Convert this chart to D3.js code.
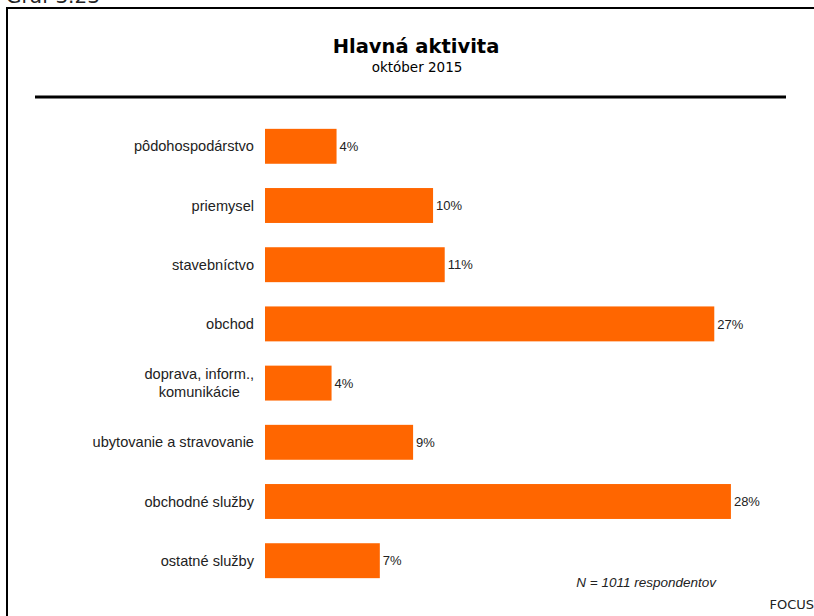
<!DOCTYPE html>
<html>
<head>
<meta charset="utf-8">
<script src="https://cdn.jsdelivr.net/npm/d3@7"></script>
<style>
  body { margin: 0; background: #fff; }
  svg { display: block; }
</style>
</head>
<body>
<div id="chart"></div>
<script>
// categories (top to bottom) and share of respondents in %
var categories = [
	"pôdohospodárstvo",
	"priemysel",
	"stavebníctvo",
	"obchod",
	"doprava, inform.,|komunikácie",
	"ubytovanie a stravovanie",
	"obchodné služby",
	"ostatné služby"
];
var values = [4.3, 10.1, 10.8, 27.0, 4.0, 8.9, 28.0, 6.9];

var title = "Hlavná aktivita";
var subtitle = "október 2015";
var note = "N = 1011 respondentov";
var source = "FOCUS";

var width = 814, height = 616;

var svg = d3.select("#chart")
	.append("svg")
	.attr("width", width)
	.attr("height", height);

svg.append("rect")
	.attr("width", width)
	.attr("height", height)
	.style("fill", "#fff");

// heading above the frame, cut off by the top edge as in the source page
svg.append("text")
	.attr("x", 6)
	.attr("y", 2.5)
	.style("font-family", "DejaVu Sans")
	.style("font-size", "20px")
	.style("fill", "#222")
	.text("Graf 3.23");

// frame (top + left)
svg.append("line")
	.attr("x1", 6).attr("x2", width)
	.attr("y1", 8).attr("y2", 8)
	.style("stroke", "#000").style("stroke-width", 2);
svg.append("line")
	.attr("x1", 7).attr("x2", 7)
	.attr("y1", 7).attr("y2", height)
	.style("stroke", "#000").style("stroke-width", 2);

// title block
svg.append("text")
	.attr("x", 416)
	.attr("y", 53)
	.attr("text-anchor", "middle")
	.style("font-family", "DejaVu Sans")
	.style("font-weight", "bold")
	.style("font-size", "19.5px")
	.style("fill", "#000")
	.text(title);

svg.append("text")
	.attr("x", 417)
	.attr("y", 72)
	.attr("text-anchor", "middle")
	.style("font-family", "DejaVu Sans")
	.style("font-size", "13.5px")
	.style("fill", "#000")
	.text(subtitle);

svg.append("line")
	.attr("x1", 35).attr("x2", 786)
	.attr("y1", 97).attr("y2", 97)
	.style("stroke", "#000").style("stroke-width", 3);

// scales
var x = d3.scaleLinear()
	.domain([0, 30])
	.range([265, 764.2]);

var y = d3.scaleBand()
	.domain(categories)
	.range([117, 590])
	.paddingInner(0.41)
	.paddingOuter(0.2);

// bars
svg.selectAll(".bar")
	.data(categories)
	.enter().append("rect")
	.attr("class", "bar")
	.attr("x", x(0))
	.attr("y", function(d) { return y(d); })
	.attr("width", function(d, i) { return x(values[i]) - x(0); })
	.attr("height", y.bandwidth())
	.style("fill", "#FF6600");

// value labels
svg.selectAll(".val")
	.data(categories)
	.enter().append("text")
	.attr("class", "val")
	.attr("x", function(d, i) { return x(values[i]) + 3; })
	.attr("y", function(d) { return y(d) + y.bandwidth() / 2; })
	.attr("dy", "0.36em")
	.style("font-family", "Liberation Sans")
	.style("font-size", "13px")
	.style("fill", "#222")
	.text(function(d, i) { return Math.round(values[i]) + "%"; });

// category labels, right aligned; multi-line ones centred within their block
var labelRight = 254;
var labels = svg.selectAll(".cat")
	.data(categories)
	.enter().append("text")
	.attr("class", "cat")
	.style("font-family", "Liberation Sans")
	.style("font-size", "14.6px")
	.style("fill", "#222");

labels.each(function(d) {
	var t = d3.select(this);
	var lines = d.split("|");
	var cy = y(d) + y.bandwidth() / 2;
	var lh = 18;
	var spans = lines.map(function(s, k) {
		return t.append("tspan")
			.attr("y", cy + (k - (lines.length - 1) / 2) * lh)
			.attr("dy", "0.35em")
			.text(s);
	});
	if (lines.length == 1) {
		spans[0].attr("x", labelRight).attr("text-anchor", "end");
	} else {
		var maxW = d3.max(spans, function(s) { return s.node().getComputedTextLength(); });
		var cx = labelRight - maxW / 2;
		spans.forEach(function(s) {
			s.attr("x", cx).attr("text-anchor", "middle");
		});
	}
});

// footnote and source
svg.append("text")
	.attr("x", 716)
	.attr("y", 587)
	.attr("text-anchor", "end")
	.style("font-family", "Liberation Sans")
	.style("font-style", "italic")
	.style("font-size", "13.5px")
	.style("fill", "#222")
	.text(note);

svg.append("text")
	.attr("x", 814)
	.attr("y", 609)
	.attr("text-anchor", "end")
	.style("font-family", "DejaVu Sans")
	.style("font-size", "13px")
	.style("fill", "#222")
	.text(source);
</script>
</body>
</html>
